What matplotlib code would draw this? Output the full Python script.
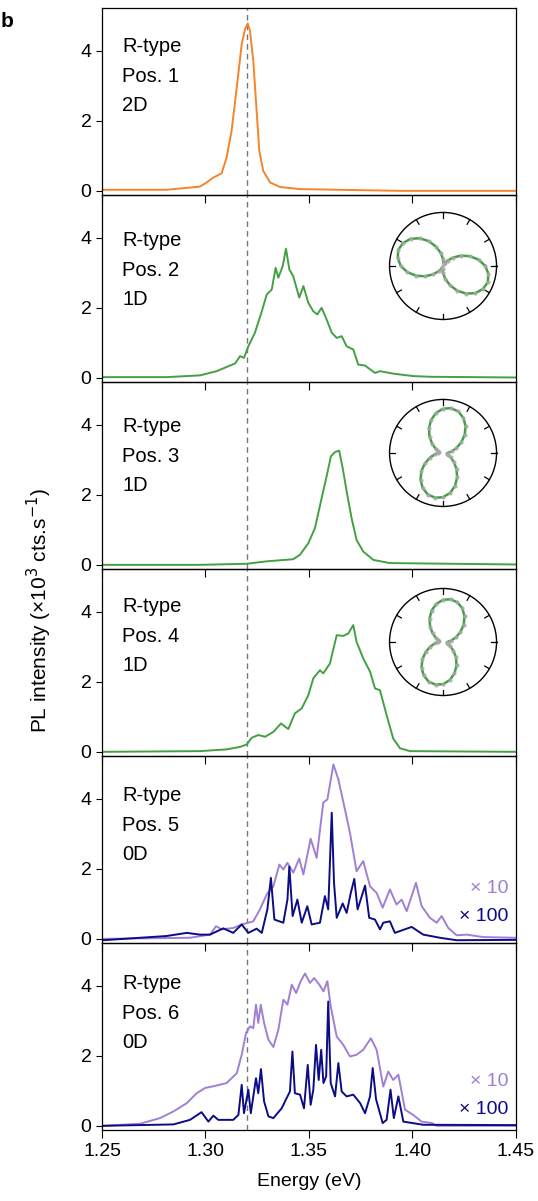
import matplotlib
matplotlib.use("Agg")
import matplotlib.pyplot as plt
import numpy as np

plt.rcParams["font.family"] = ["Liberation Sans", "DejaVu Sans"]

# --- spectra (energy in eV, intensity in 1e3 cts/s) ---
pos1_e = [1.250, 1.281, 1.2973, 1.3006, 1.3038, 1.3078, 1.3102, 1.3126, 1.3151, 1.3175,
          1.3191, 1.3204, 1.3215, 1.3231, 1.3247, 1.3260, 1.3279, 1.3312, 1.3360, 1.3457,
          1.394, 1.450]
pos1_i = [0.03, 0.03, 0.12, 0.24, 0.38, 0.50, 0.95, 1.71, 2.95, 4.19,
          4.62, 4.78, 4.57, 3.71, 2.29, 1.14, 0.57, 0.24, 0.11, 0.05,
          0.0, 0.0]

pos2_e = [1.250, 1.2812, 1.2973, 1.3054, 1.3110, 1.3143, 1.3167, 1.3186, 1.3207, 1.3239,
          1.3272, 1.3296, 1.3320, 1.3339, 1.3352, 1.3373, 1.3389, 1.3405, 1.3424, 1.3453,
          1.3473, 1.3497, 1.3521, 1.3540, 1.3561, 1.3585, 1.3610, 1.3634, 1.3658, 1.3682,
          1.3714, 1.3738, 1.3771, 1.3819, 1.3843, 1.3907, 1.4004, 1.4085, 1.450]
pos2_i = [0.02, 0.02, 0.07, 0.19, 0.33, 0.41, 0.62, 0.57, 0.90, 1.29,
          1.90, 2.38, 2.52, 3.14, 2.86, 3.19, 3.69, 3.10, 2.90, 2.29,
          2.62, 2.14, 1.90, 1.81, 2.00, 1.67, 1.29, 1.14, 1.19, 0.90,
          0.81, 0.38, 0.35, 0.14, 0.19, 0.12, 0.05, 0.03, 0.01]

pos3_e = [1.250, 1.2973, 1.3199, 1.3296, 1.3424, 1.3457, 1.3497, 1.3529, 1.3561, 1.3585,
          1.3606, 1.3626, 1.3646, 1.3663, 1.3682, 1.3706, 1.3730, 1.3762, 1.3811, 1.3891,
          1.450]
pos3_i = [0.0, 0.0, 0.03, 0.10, 0.16, 0.29, 0.62, 1.05, 1.90, 2.52,
          3.10, 3.22, 3.26, 2.76, 2.10, 1.33, 0.71, 0.38, 0.14, 0.05,
          0.01]

pos4_e = [1.250, 1.2973, 1.3102, 1.3167, 1.3199, 1.3223, 1.3255, 1.3288, 1.3328, 1.3365,
          1.3400, 1.3432, 1.3465, 1.3497, 1.3521, 1.3553, 1.3569, 1.3601, 1.3634, 1.3666,
          1.3690, 1.3714, 1.3730, 1.3762, 1.3795, 1.3819, 1.3843, 1.3875, 1.3907, 1.3940,
          1.3988, 1.450]
pos4_i = [0.0, 0.02, 0.07, 0.14, 0.21, 0.40, 0.48, 0.43, 0.57, 0.81,
          0.65, 1.10, 1.24, 1.62, 2.10, 2.33, 2.24, 2.52, 3.33, 3.31,
          3.38, 3.62, 3.14, 2.67, 2.29, 1.81, 1.76, 1.05, 0.38, 0.10,
          0.02, 0.0]

pos5_x10_e = [1.2506, 1.2925, 1.3022, 1.3051, 1.3078, 1.3134, 1.3175, 1.3231, 1.3263, 1.3296,
              1.3328, 1.3357, 1.3376, 1.3396, 1.3424, 1.3453, 1.3473, 1.3508, 1.3537, 1.3569,
              1.3589, 1.3618, 1.3642, 1.3674, 1.3698, 1.3730, 1.3762, 1.3795, 1.3827, 1.3856,
              1.3891, 1.3923, 1.3948, 1.3972, 1.4017, 1.4044, 1.4084, 1.4117, 1.4141, 1.4173,
              1.4214, 1.4262, 1.4342, 1.450]
pos5_x10_i = [0.0, 0.03, 0.12, 0.36, 0.27, 0.31, 0.41, 0.50, 0.84, 1.27,
              1.50, 2.12, 1.98, 2.17, 1.89, 2.29, 1.84, 2.86, 2.31, 3.89,
              3.98, 4.98, 4.55, 3.69, 3.03, 1.93, 2.22, 1.50, 1.31, 0.89,
              1.41, 0.98, 1.12, 0.79, 1.60, 0.94, 0.60, 0.46, 0.65, 0.31,
              0.10, 0.12, 0.05, 0.03]
pos5_x100_e = [1.2506, 1.2684, 1.2812, 1.2910, 1.2973, 1.3022, 1.3086, 1.3134, 1.3175, 1.3207,
               1.3247, 1.3272, 1.3299, 1.3316, 1.3333, 1.3376, 1.3396, 1.3405, 1.3421, 1.3444,
               1.3465, 1.3492, 1.3513, 1.3553, 1.3577, 1.3593, 1.3610, 1.3621, 1.3634, 1.3663,
               1.3682, 1.3702, 1.3719, 1.3735, 1.3771, 1.3791, 1.3819, 1.3843, 1.3859, 1.3891,
               1.3915, 1.3996, 1.4052, 1.4133, 1.4213, 1.450]
pos5_x100_i = [-0.04, 0.03, 0.08, 0.17, 0.12, 0.12, 0.30, 0.17, 0.41, 0.17,
               0.29, 0.17, 0.84, 1.74, 0.55, 0.46, 1.12, 2.06, 0.65, 1.12,
               0.46, 0.93, 0.41, 0.46, 1.22, 0.84, 3.60, 1.60, 0.60, 1.01,
               0.74, 1.31, 1.71, 0.84, 1.52, 0.60, 0.55, 0.27, 0.46, 0.50,
               0.17, 0.34, 0.12, 0.03, -0.04, -0.03]

pos6_x10_e = [1.2506, 1.2684, 1.2780, 1.2845, 1.2910, 1.2957, 1.2998, 1.3046, 1.3102, 1.3151,
              1.3175, 1.3196, 1.3215, 1.3231, 1.3244, 1.3255, 1.3267, 1.3283, 1.3304, 1.3328,
              1.3352, 1.3376, 1.3396, 1.3417, 1.3438, 1.3460, 1.3481, 1.3505, 1.3525, 1.3550,
              1.3570, 1.3589, 1.3605, 1.3634, 1.3666, 1.3698, 1.3730, 1.3762, 1.3799, 1.3827,
              1.3859, 1.3883, 1.3907, 1.3932, 1.3964, 1.4004, 1.4044, 1.4093, 1.4117, 1.450]
pos6_x10_i = [0.0, 0.06, 0.22, 0.41, 0.65, 0.93, 1.08, 1.14, 1.22, 1.50,
              2.03, 2.65, 2.84, 2.79, 3.46, 2.94, 3.46, 2.94, 2.46, 2.25,
              2.74, 3.60, 3.46, 4.03, 3.79, 4.13, 4.35, 4.08, 4.22, 4.03,
              3.84, 4.13, 3.41, 2.55, 2.31, 1.98, 2.03, 2.17, 2.50, 2.17,
              1.12, 1.55, 1.31, 1.46, 0.46, 0.31, 0.12, 0.08, 0.0, 0.0]
pos6_x100_e = [1.2506, 1.2845, 1.2925, 1.2981, 1.3014, 1.3038, 1.3062, 1.3134, 1.3159, 1.3175,
               1.3186, 1.3207, 1.3219, 1.3244, 1.3255, 1.3268, 1.3283, 1.3304, 1.3328, 1.3368,
               1.3392, 1.3408, 1.3420, 1.3432, 1.3457, 1.3476, 1.3494, 1.3508, 1.3521, 1.3534,
               1.3547, 1.3559, 1.3570, 1.3583, 1.3593, 1.3605, 1.3626, 1.3642, 1.3658, 1.3682,
               1.3714, 1.3747, 1.3771, 1.3795, 1.3808, 1.3824, 1.3856, 1.3875, 1.3894, 1.3910,
               1.3932, 1.3956, 1.4052, 1.450]
pos6_x100_i = [0.0, 0.04, 0.17, 0.39, 0.12, 0.29, 0.17, 0.17, 0.31, 1.17,
               0.36, 1.03, 0.36, 1.36, 0.93, 1.62, 0.70, 0.27, 0.22, 0.50,
               0.79, 0.98, 2.12, 0.93, 0.89, 0.50, 1.74, 0.60, 1.03, 2.31,
               1.31, 2.17, 1.22, 1.41, 3.55, 1.22, 0.84, 1.79, 0.98, 0.84,
               0.89, 0.65, 0.36, 0.84, 1.65, 0.76, 0.08, 0.17, 1.03, 0.22,
               0.84, 0.12, 0.03, 0.02]

# --- polarization (angle in deg, normalised radius) ---
pol_angle = list(range(0, 360, 10))
pol2_r = [0.79, 0.675, 0.535, 0.385, 0.245, 0.13, 0.055, 0.03, 0.055, 0.13,
          0.245, 0.385, 0.535, 0.675, 0.79, 0.86, 0.89, 0.86,
          0.79, 0.675, 0.535, 0.385, 0.245, 0.13, 0.055, 0.03, 0.055, 0.13,
          0.245, 0.385, 0.535, 0.675, 0.79, 0.86, 0.89, 0.86]
pol3_r = [0.093, 0.161, 0.265, 0.392, 0.528, 0.655, 0.759, 0.827, 0.85, 0.827,
          0.759, 0.655, 0.528, 0.392, 0.265, 0.161, 0.093, 0.07,
          0.093, 0.161, 0.265, 0.392, 0.528, 0.655, 0.759, 0.827, 0.85, 0.827,
          0.759, 0.655, 0.528, 0.392, 0.265, 0.161, 0.093, 0.07]
pol4_r = [0.092, 0.157, 0.255, 0.376, 0.504, 0.625, 0.723, 0.788, 0.81, 0.788,
          0.723, 0.625, 0.504, 0.376, 0.255, 0.157, 0.092, 0.07,
          0.092, 0.157, 0.255, 0.376, 0.504, 0.625, 0.723, 0.788, 0.81, 0.788,
          0.723, 0.625, 0.504, 0.376, 0.255, 0.157, 0.092, 0.07]

pos_labels = ["Pos. 1", "Pos. 2", "Pos. 3", "Pos. 4", "Pos. 5", "Pos. 6"]
dim_labels = ["2D", "1D", "1D", "1D", "0D", "0D"]
label_y = [4.11, 3.91, 3.94, 4.14, 4.09, 4.06]

ORANGE = "#f5842a"
GREEN = "#44a043"
LAVENDER = "#a07fd4"
NAVY = "#0c0c85"

fig, axes = plt.subplots(6, 1, sharex=True, figsize=(5.38, 12.01), dpi=100,
                         gridspec_kw={"hspace": 0})
fig.subplots_adjust(left=0.1896, right=0.959, top=0.9933, bottom=0.0591)

axes[0].plot(pos1_e, pos1_i, color=ORANGE, lw=1.4)
axes[1].plot(pos2_e, pos2_i, color=GREEN, lw=1.4)
axes[2].plot(pos3_e, pos3_i, color=GREEN, lw=1.4)
axes[3].plot(pos4_e, pos4_i, color=GREEN, lw=1.4)
axes[4].plot(pos5_x10_e, pos5_x10_i, color=LAVENDER, lw=1.4)
axes[4].plot(pos5_x100_e, pos5_x100_i, color=NAVY, lw=1.4)
axes[5].plot(pos6_x10_e, pos6_x10_i, color=LAVENDER, lw=1.4)
axes[5].plot(pos6_x100_e, pos6_x100_i, color=NAVY, lw=1.4)

for i, ax in enumerate(axes):
    ax.set_facecolor("none")
    ax.set_xlim(1.25, 1.45)
    ax.set_ylim(-0.12, 5.22)
    ax.set_yticks([0, 2, 4])
    ax.set_xticks([1.25, 1.30, 1.35, 1.40, 1.45])
    ax.tick_params(axis="y", direction="out", length=4, width=0.8, labelsize=14)
    ax.tick_params(axis="x", direction="out", length=6, width=0.8, labelsize=14)
    for sp in ax.spines.values():
        sp.set_linewidth(0.9)
    ax.axvline(1.32, color="#777777", lw=1.0, ls=(0, (4, 3)), zorder=0)
    y0 = label_y[i]
    ax.text(1.2597, y0, "R-type", fontsize=14.5, va="center")
    ax.text(1.2597, y0 - 0.84, pos_labels[i], fontsize=14.5, va="center")
    ax.text(1.2597, y0 - 1.68, dim_labels[i], fontsize=14.5, va="center")

axes[5].xaxis.set_major_formatter(matplotlib.ticker.FormatStrFormatter("%.2f"))
axes[5].set_xlabel("Energy (eV)", fontsize=14, labelpad=9)

for ax, y10, y100 in [(axes[4], 1.43, 0.63), (axes[5], 1.26, 0.46)]:
    ax.text(1.4465, y10, "× 10", color=LAVENDER, fontsize=14, ha="right", va="center")
    ax.text(1.4465, y100, "× 100", color=NAVY, fontsize=14, ha="right", va="center")

fig.text(0.074, 0.492, "PL intensity (×10$^{3}$ cts.s$^{-1}$)", rotation=90,
         fontsize=15, ha="center", va="center")
fig.text(0.002, 0.982, "b", fontsize=15, fontweight="bold", ha="left", va="center")

# polar insets
theta = np.deg2rad(pol_angle + [pol_angle[0]])
tick_angles = np.deg2rad(np.arange(0, 360, 30))
for r, bottom in [(pol2_r, 0.734), (pol3_r, 0.5783), (pol4_r, 0.4209)]:
    pax = fig.add_axes([0.724, bottom, 0.199, 0.0891], projection="polar")
    rr = r + [r[0]]
    pax.plot(theta, rr, color=GREEN, lw=1.8, zorder=2)
    pax.plot(theta[:-1], r, "o", color="#a8a8a8", ms=3, alpha=0.85, zorder=3, mec="none")
    for a in tick_angles:
        pax.plot([a, a], [0.9, 1.0], color="black", lw=0.9, clip_on=False)
    pax.set_ylim(0, 1)
    pax.set_yticks([])
    pax.set_xticks([])
    pax.grid(False)
    pax.spines["polar"].set_linewidth(1.0)

fig.savefig("out.png", dpi=100)
